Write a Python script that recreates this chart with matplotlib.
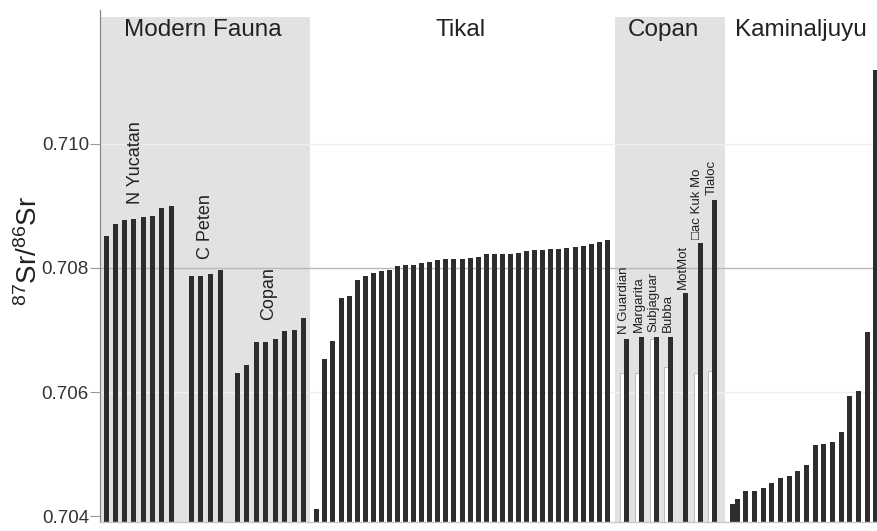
import matplotlib
matplotlib.use("Agg")
import matplotlib.pyplot as plt
from matplotlib.patches import Rectangle
import numpy as np

plt.rcParams['font.family'] = ['Liberation Sans', 'DejaVu Sans']
plt.rcParams['mathtext.fontset'] = 'custom'
plt.rcParams['mathtext.rm'] = 'Liberation Sans'
plt.rcParams['mathtext.it'] = 'Liberation Sans:italic'
plt.rcParams['mathtext.bf'] = 'Liberation Sans:bold'

# ---------------- data ----------------
modern_n_yucatan = [0.70852, 0.70871, 0.70877, 0.70879, 0.70882, 0.70884, 0.70897, 0.70900]
modern_c_peten = [0.70787, 0.70787, 0.70790, 0.70796]
modern_copan = [0.70630, 0.70644, 0.70680, 0.70680, 0.70685, 0.70698, 0.70700, 0.70720]

tikal = [0.70412, 0.70653, 0.70683, 0.70752, 0.70754, 0.70781, 0.70787, 0.70791, 0.70795,
         0.70797, 0.70803, 0.70804, 0.70805, 0.70808, 0.70809, 0.70813, 0.70814, 0.70815,
         0.70815, 0.70816, 0.70818, 0.70823, 0.70823, 0.70823, 0.70823, 0.70824, 0.70827,
         0.70829, 0.70829, 0.70830, 0.70830, 0.70832, 0.70834, 0.70836, 0.70839, 0.70842,
         0.70845]

copan_names = ["N Guardian", "Margarita", "Subjaguar", "Bubba", "MotMot", "\u25a1ac Kuk Mo", "Tlaloc"]
copan_black = [0.70686, 0.70689, 0.70689, 0.70689, 0.70759, 0.70840, 0.70910]
copan_white = [0.70630, 0.70630, 0.70686, 0.70641, None, 0.70630, 0.70634]

kaminaljuyu = [0.70419, 0.70428, 0.70440, 0.70440, 0.70445, 0.70454, 0.70461, 0.70465,
               0.70472, 0.70483, 0.70514, 0.70517, 0.70519, 0.70535, 0.70594, 0.70601,
               0.70697, 0.71119]

group_titles = ["Modern Fauna", "Tikal", "Copan", "Kaminaljuyu"]
modern_sublabels = ["N Yucatan", "C Peten", "Copan"]
yticks = [0.704, 0.706, 0.708, 0.710]
ytick_labels = ["0.704", "0.706", "0.708", "0.710"]

# ---------------- layout ----------------
W, H = 877, 531
fig = plt.figure(figsize=(W / 100, H / 100), dpi=100)
ax_left_px, ax_right_px, ax_top_px, ax_bot_px = 100, 877, 10, 521.7
ax = fig.add_axes([ax_left_px / W, 1 - ax_bot_px / H,
                   (ax_right_px - ax_left_px) / W, (ax_bot_px - ax_top_px) / H])
ylo, yhi = 0.70391, 0.712156
ax.set_xlim(ax_left_px, ax_right_px)
ax.set_ylim(ylo, yhi)

bar_color = '#2d2d2d'
shade = '#e1e2e4'
shade_top = 0.71205
bw = 5.0

# shaded regions
for x0, x1 in [(100, 309.5), (615, 725)]:
    ax.add_patch(Rectangle((x0, ylo), x1 - x0, shade_top - ylo, facecolor=shade,
                           edgecolor='none', zorder=0))

# grid lines
for yv in (0.706, 0.710):
    ax.axhline(yv, color='#efefef', lw=1.0, zorder=0.5)
ax.axhline(0.708, color='#b8b8b8', lw=1.0, zorder=0.5)


def draw(xs, vals, **kw):
    vals = np.asarray(vals, dtype=float)
    ax.bar(xs, vals - ylo, bottom=ylo, width=bw, color=bar_color, linewidth=0, zorder=2, **kw)


# modern fauna groups
draw(106 + 9.29 * np.arange(len(modern_n_yucatan)), modern_n_yucatan)
draw(191 + 9.9 * np.arange(len(modern_c_peten)), modern_c_peten)
draw(237.3 + 9.49 * np.arange(len(modern_copan)), modern_copan)

# Tikal
draw(316.8 + 8.07 * np.arange(len(tikal)), tikal)

# Copan archaeological
cx = 626.7 + 14.7 * np.arange(len(copan_black))
for xb, vw in zip(cx, copan_white):
    if vw is not None:
        ax.bar(xb - 4.4, vw - ylo, bottom=ylo, width=4.2, facecolor='white',
               edgecolor='#bdbdbd', linewidth=0.7, zorder=2)
draw(cx, copan_black)
for xb, vb, name in zip(cx, copan_black, copan_names):
    ax.text(xb - 3.0, vb + 0.00007, name, rotation=90, ha='center', va='bottom',
            fontsize=9.5, color='#222222', zorder=3)

# Kaminaljuyu
kslots = np.concatenate([[0.5], np.arange(1, len(kaminaljuyu))])
draw(728.6 + 8.67 * kslots, kaminaljuyu)

# group titles
title_x = [203, 461, 663, 801]
for tx, t in zip(title_x, group_titles):
    ax.text(tx, 0.71183, t, ha='center', va='center', fontsize=17.5, color='#222222')

# modern fauna sublabels
for (sx, sy), s in zip([(136, 0.70903), (205, 0.70814), (269, 0.70716)], modern_sublabels):
    ax.text(sx, sy, s, rotation=90, ha='center', va='bottom', fontsize=13, color='#222222')

# axes styling
for sp in ('top', 'right'):
    ax.spines[sp].set_visible(False)
ax.spines['left'].set_color('#8a8a8a')
ax.spines['left'].set_linewidth(0.9)
ax.spines['bottom'].set_color('#c8c8c8')
ax.spines['bottom'].set_linewidth(1.0)
ax.set_xticks([])
ax.set_yticks(yticks)
ax.set_yticklabels(ytick_labels, fontsize=13.5, color='#333333')
ax.tick_params(axis='y', direction='out', length=7, width=0.8, color='#9a9a9a', pad=1)

fig.text(29 / W, 1 - 251 / H, r'$^{87}$Sr/$^{86}$Sr', rotation=90, ha='center', va='center',
         fontsize=20, color='#222222')

fig.savefig('out.png', dpi=100, facecolor='white')
